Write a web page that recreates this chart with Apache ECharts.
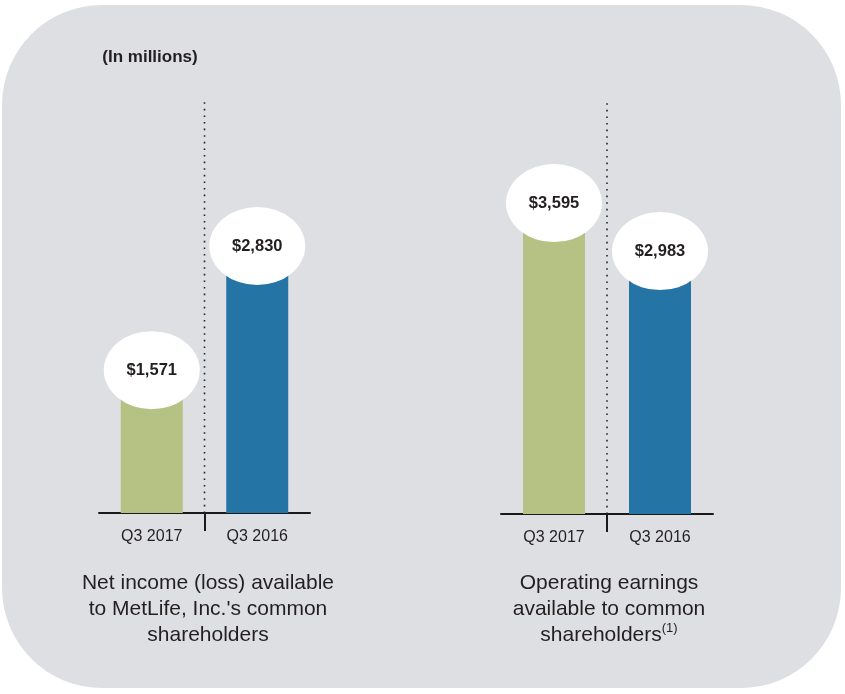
<!DOCTYPE html>
<html><head><meta charset="utf-8">
<script src="https://cdn.jsdelivr.net/npm/echarts@6/dist/echarts.min.js"></script>
<style>html,body{margin:0;padding:0;background:#fff}#c{width:845px;height:694px}</style>
</head><body><div id="c"></div>
<script>
const categories = ['Q3 2017', 'Q3 2016'];
const netIncome = [1571, 2830];
const operatingEarnings = [3595, 2983];
const barColors = ['#b6c184', '#2574a6'];
const unitLabel = '(In millions)';
const panelTitleLeft = 'Net income (loss) available\nto MetLife, Inc.\'s common\nshareholders';
const panelTitleRight = 'Operating earnings\navailable to common\nshareholders{sup|(1)}';

const narrow = "'Liberation Sans Narrow', 'Arial Narrow', 'Liberation Sans', Arial, sans-serif";
const sans = "'Liberation Sans', Arial, sans-serif";
const ink = '#231f20';
const ellipse = 'path://M0,50A50,50,0,1,1,100,50A50,50,0,1,1,0,50Z';
const fmt = v => '$' + v.toLocaleString('en-US');

const grids = [
  {left: 99, right: 535, top: 100, bottom: 181},
  {left: 501, right: 132, top: 100, bottom: 180}
];
const yMax = [4190, 5280];
const labelOffset = [12, -29];
const panels = [netIncome, operatingEarnings];

const xAxis = [], yAxis = [], series = [];
panels.forEach((vals, i) => {
  xAxis.push({
    type: 'category', gridIndex: i, data: categories, position: 'bottom',
    axisLine: {show: true, lineStyle: {color: '#1a1a1a', width: 2}},
    axisTick: {show: false},
    axisLabel: {color: ink, fontFamily: narrow, fontSize: 16, margin: 16}
  });
  xAxis.push({
    type: 'value', gridIndex: i, min: 0, max: 2, position: 'bottom',
    axisLine: {show: false}, splitLine: {show: false},
    axisLabel: {show: false},
    axisTick: {show: true, customValues: [1], length: 18, inside: false,
               lineStyle: {color: '#1a1a1a', width: 2}}
  });
  yAxis.push({
    type: 'value', gridIndex: i, min: 0, max: yMax[i], show: false,
    splitLine: {show: false}
  });
  series.push({
    type: 'line', xAxisIndex: i * 2 + 1, yAxisIndex: i,
    data: [[1, 0], [1, yMax[i]]], symbol: 'none', silent: true,
    lineStyle: {color: '#222', width: 1.6, type: [1.6, 5]}, z: 1
  });
  series.push({
    type: 'bar', xAxisIndex: i * 2, yAxisIndex: i, barWidth: 62,
    data: vals.map((v, k) => ({value: v, itemStyle: {color: barColors[k]}})),
    z: 2
  });
  series.push({
    type: 'scatter', xAxisIndex: i * 2, yAxisIndex: i,
    data: vals, symbol: ellipse, symbolSize: [96, 78],
    symbolOffset: [0, labelOffset[i]],
    itemStyle: {color: '#ffffff', opacity: 1},
    label: {show: true, position: 'inside', formatter: p => fmt(p.value),
            color: ink, fontFamily: narrow, fontWeight: 'bold', fontSize: 16.5},
    emphasis: {disabled: true}, z: 3
  });
});

const chart = echarts.init(document.getElementById('c'));
chart.setOption({
  animation: false,
  graphic: [{
    type: 'rect', z: -10, silent: true,
    shape: {x: 2, y: 5, width: 839, height: 683, r: 100},
    style: {fill: '#dedfe3'}
  }],
  title: [
    {text: unitLabel, left: 150, top: 49, padding: 0, textAlign: 'center',
     textStyle: {color: ink, fontFamily: sans, fontWeight: 'bold', fontSize: 17}},
    {text: panelTitleLeft, left: 208, top: 570, padding: 0, textAlign: 'center',
     textStyle: {color: ink, fontFamily: sans, fontWeight: 'normal', fontSize: 21, lineHeight: 26}},
    {text: panelTitleRight, left: 609, top: 570, padding: 0, textAlign: 'center',
     textStyle: {color: ink, fontFamily: sans, fontWeight: 'normal', fontSize: 21, lineHeight: 26,
       rich: {sup: {fontSize: 13, fontFamily: sans, color: ink, verticalAlign: 'top', lineHeight: 15}}}}
  ],
  grid: grids,
  xAxis: xAxis,
  yAxis: yAxis,
  series: series
});
</script></body></html>
